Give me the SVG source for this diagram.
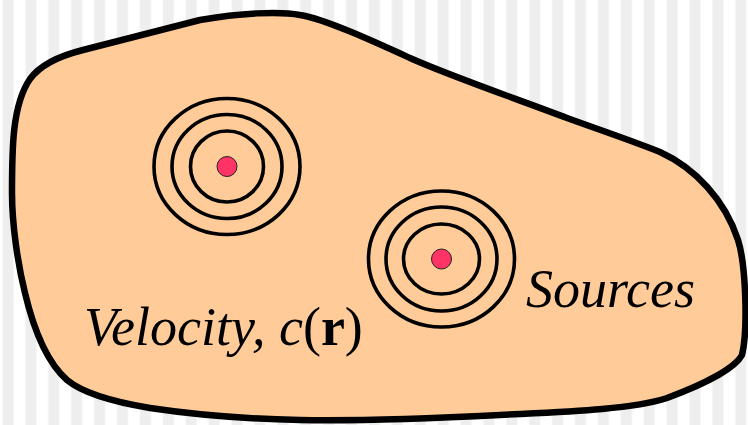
<svg xmlns="http://www.w3.org/2000/svg" width="748" height="425" viewBox="0 0 748 425">
<defs>
<pattern id="stripes" x="0" y="0" width="22.9" height="425" patternUnits="userSpaceOnUse">
<rect x="2.5" y="0" width="11" height="425" fill="#eeeeee"/>
</pattern>
</defs>
<style>
.ring{fill:none;stroke:#000;stroke-width:3.6}
.dot{fill:#ff3366;stroke:#222;stroke-width:1}
</style>
<rect width="748" height="425" fill="#ffffff"/>
<rect width="748" height="425" fill="url(#stripes)"/>
<g id="region">
<path d="M 83,50 L 200,20 C 240,13 280,11 300,15 C 325,19 375,42 410,58 C 450,76 520,100 567,118 C 600,130 630,140 660,152 C 695,168 725,200 738,240 C 746,265 748,330 742,355 C 735,368 705,384 667,398 C 630,410 560,412 500,415 C 440,418 360,421 300,420 C 250,419 190,414 150,408 C 120,403 85,395 67,380 C 50,365 35,335 25,293 C 18,265 12,225 12,193 C 12,150 12,105 30,79 C 38,68 55,57 83,50 Z" fill="#ffcc99" stroke="#000" stroke-width="6.5" stroke-linejoin="round"/>
</g>
<g id="source1">
<ellipse class="ring" cx="227" cy="166.5" rx="73" ry="68"/>
<ellipse class="ring" cx="227" cy="166.5" rx="55" ry="52"/>
<ellipse class="ring" cx="227" cy="166.5" rx="36.5" ry="35.5"/>
<circle class="dot" cx="227" cy="166.5" r="10"/>
</g>
<g id="source2">
<ellipse class="ring" cx="441.5" cy="259" rx="73" ry="68"/>
<ellipse class="ring" cx="441.5" cy="259" rx="55.5" ry="52"/>
<ellipse class="ring" cx="441.5" cy="259" rx="38" ry="35"/>
<circle class="dot" cx="441.5" cy="259" r="10"/>
</g>
<g id="labels" font-family="Liberation Serif, Times New Roman, serif" font-size="54" font-style="italic" fill="#000">
<text x="84" y="345">Velocity, c<tspan font-style="normal">(</tspan><tspan font-style="normal" font-weight="bold">r</tspan><tspan font-style="normal">)</tspan></text>
<text x="526" y="307">Sources</text>
</g>
<g id="connectors"/>
</svg>
